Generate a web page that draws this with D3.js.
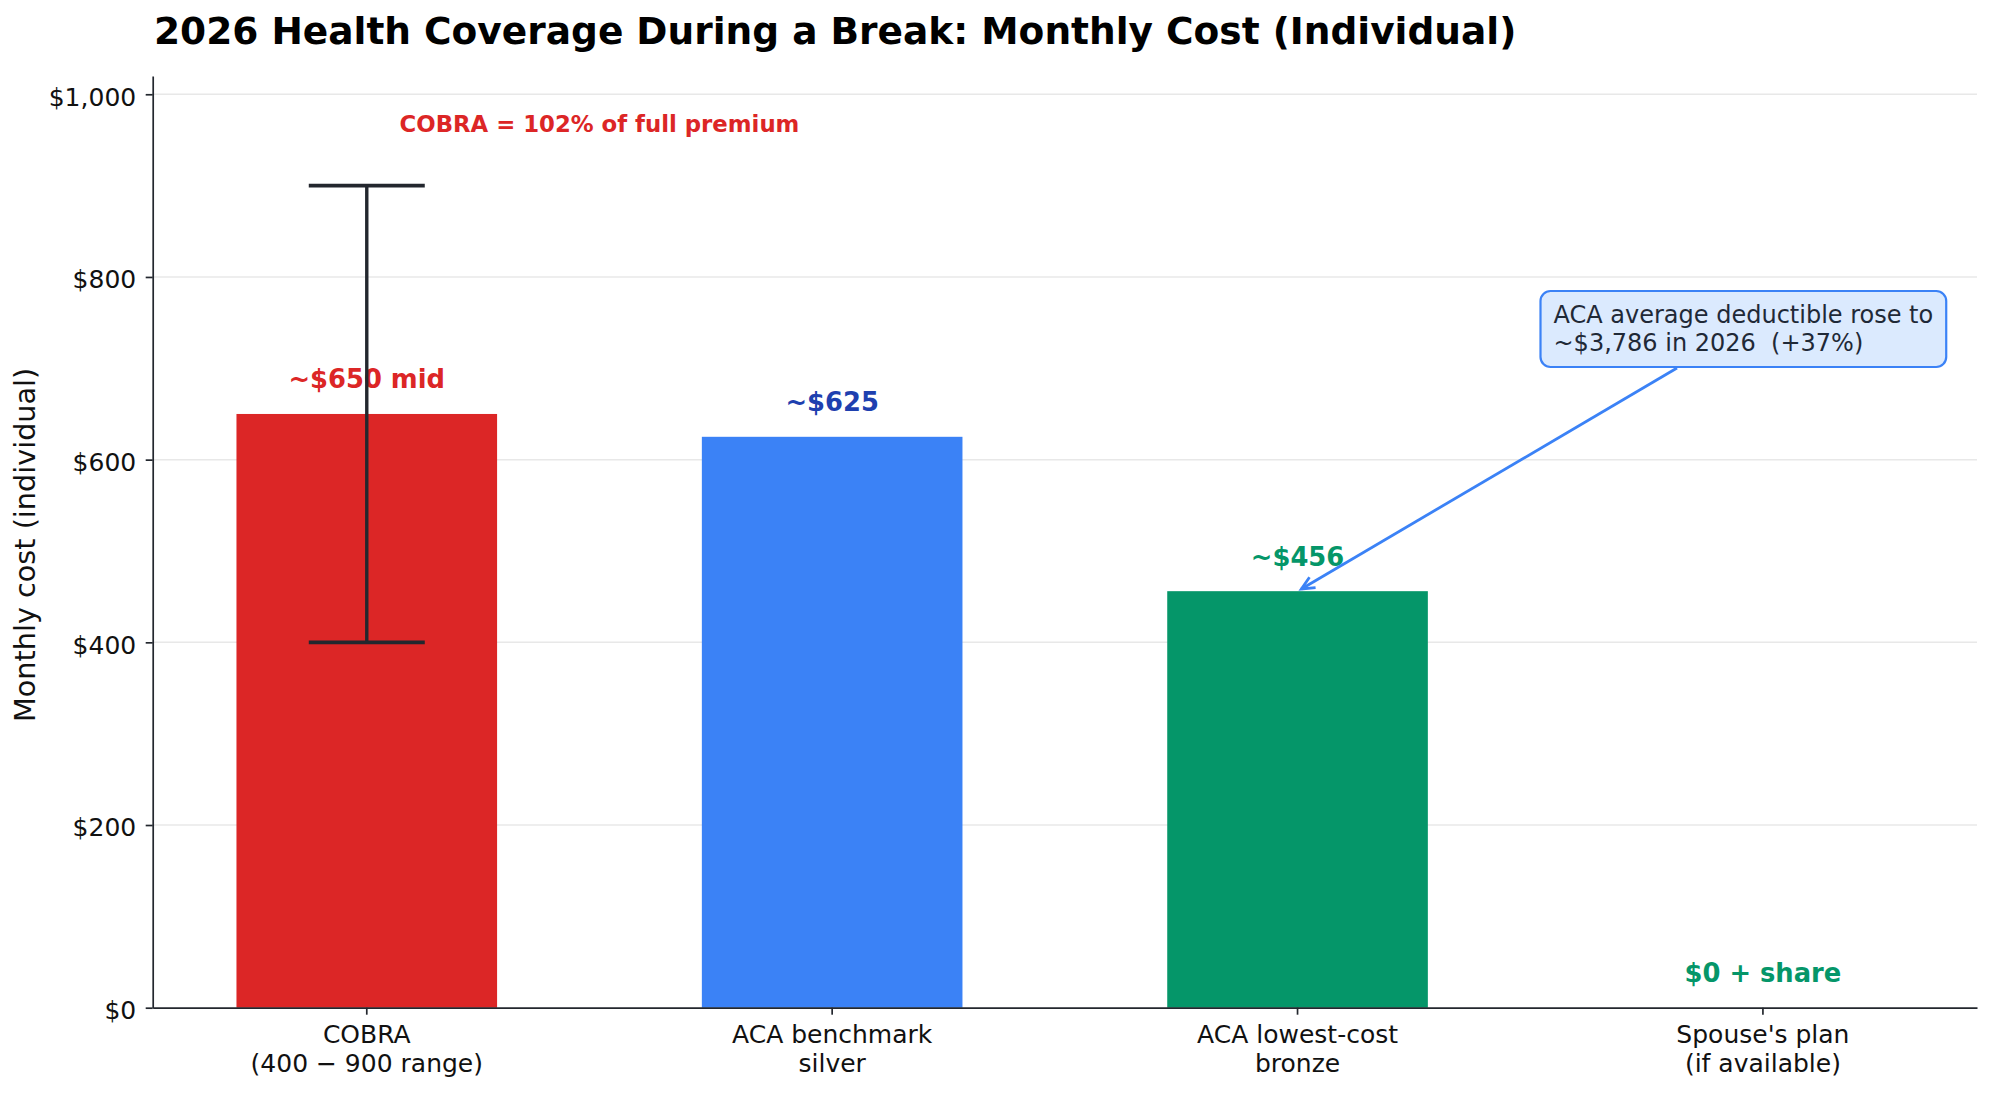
<!DOCTYPE html>
<html>
<head>
<meta charset="utf-8">
<script src="https://cdn.jsdelivr.net/npm/d3@7"></script>
<style>
  body { margin: 0; background: #fff; }
  text { font-family: "DejaVu Sans", sans-serif; }
</style>
</head>
<body>
<div id="chart"></div>
<script>
var categories = ["COBRA", "ACA benchmark", "ACA lowest-cost", "Spouse's plan"];
var subLabels = ["(400 \u2212 900 range)", "silver", "bronze", "(if available)"];
var costs = [650, 625, 456, 0];
var valueLabels = ["~$650 mid", "~$625", "~$456", "$0 + share"];
var barColors = ["#dc2626", "#3b82f6", "#059669", "#059669"];
var labelColors = ["#dc2626", "#1e40af", "#059669", "#059669"];
var cobraRange = [400, 900];
var yTicks = [0, 200, 400, 600, 800, 1000];
var noteLines = ["ACA average deductible rose to", "~$3,786 in 2026  (+37%)"];
var noteAt = [2.55, 743];     // text anchor (category units, dollars)
var notePoint = [2, 456];     // arrow target
var cobraNote = "COBRA = 102% of full premium";
var cobraNoteAt = [0.5, 960];

var width = 1991, height = 1094;
var margin = {top: 76, right: 14, bottom: 86.3, left: 152.7};
var ink = "#23272e";

var svg = d3.select("#chart").append("svg")
    .attr("width", width)
    .attr("height", height);

var x = d3.scaleBand()
    .domain(categories)
    .range([margin.left, width - margin.right])
    .paddingInner(0.44)
    .paddingOuter(0.18);

var y = d3.scaleLinear()
    .domain([0, 1020])
    .range([height - margin.bottom, margin.top]);

// fractional category position -> px (bar centres at 0,1,2,3)
var xAt = function(v) {
  return x(categories[0]) + x.bandwidth() / 2 + v * x.step();
};

// grid
svg.append("g")
    .selectAll("line")
    .data(yTicks.filter(function(d) { return d > 0; }))
    .enter().append("line")
      .attr("x1", margin.left)
      .attr("x2", width - margin.right)
      .attr("y1", function(d) { return y(d); })
      .attr("y2", function(d) { return y(d); })
      .attr("stroke", "#e8e8e8")
      .attr("stroke-width", 1.5);

// bars
svg.append("g")
    .selectAll("rect")
    .data(costs)
    .enter().append("rect")
      .attr("x", function(d, i) { return x(categories[i]); })
      .attr("width", x.bandwidth())
      .attr("y", function(d) { return y(d); })
      .attr("height", function(d) { return y(0) - y(d); })
      .attr("fill", function(d, i) { return barColors[i]; });

// value labels
svg.append("g")
    .selectAll("text")
    .data(costs)
    .enter().append("text")
      .attr("x", function(d, i) { return xAt(i); })
      .attr("y", function(d) { return y(d) - 25.5; })
      .attr("text-anchor", "middle")
      .attr("font-weight", "bold")
      .attr("font-size", "25.8px")
      .attr("fill", function(d, i) { return labelColors[i]; })
      .text(function(d, i) { return valueLabels[i]; });

// COBRA range error bar
var eb = svg.append("g")
    .attr("stroke", ink)
    .attr("stroke-width", 3.4);
eb.append("line")
    .attr("x1", xAt(0)).attr("x2", xAt(0))
    .attr("y1", y(cobraRange[0])).attr("y2", y(cobraRange[1]));
eb.selectAll(".cap")
    .data(cobraRange)
    .enter().append("line")
      .attr("class", "cap")
      .attr("x1", xAt(0) - 58).attr("x2", xAt(0) + 58)
      .attr("y1", function(d) { return y(d); })
      .attr("y2", function(d) { return y(d); })
      .attr("stroke-width", 3.8);

svg.append("text")
    .attr("x", xAt(cobraNoteAt[0]))
    .attr("y", y(cobraNoteAt[1]) + 1)
    .attr("text-anchor", "middle")
    .attr("font-weight", "bold")
    .attr("font-size", "22.8px")
    .attr("fill", "#dc2626")
    .text(cobraNote);

// axes
var yAxis = svg.append("g")
    .attr("transform", "translate(" + margin.left + ",0)")
    .call(d3.axisLeft(y)
      .tickValues(yTicks)
      .tickSizeInner(7)
      .tickSizeOuter(0)
      .tickPadding(9.5)
      .tickFormat(function(d) { return "$" + d3.format(",")(d); }));

var xAxis = svg.append("g")
    .attr("transform", "translate(0," + y(0) + ")")
    .call(d3.axisBottom(x)
      .tickSizeInner(7)
      .tickSizeOuter(0)
      .tickFormat(""));

[yAxis, xAxis].forEach(function(ax) {
  ax.select(".domain").attr("stroke", ink).attr("stroke-width", 1.7);
  ax.selectAll(".tick line").attr("stroke", ink).attr("stroke-width", 1.7);
});
yAxis.selectAll(".tick text")
    .attr("font-size", "25px")
    .attr("font-family", "DejaVu Sans")
    .attr("fill", "#111")
    .attr("dy", "0.43em");

var catLabel = svg.append("g")
    .selectAll("text")
    .data(categories)
    .enter().append("text")
      .attr("text-anchor", "middle")
      .attr("font-size", "25px")
      .attr("fill", "#111");
catLabel.append("tspan")
    .attr("x", function(d) { return x(d) + x.bandwidth() / 2; })
    .attr("y", y(0) + 34.8)
    .text(function(d) { return d; });
catLabel.append("tspan")
    .attr("x", function(d) { return x(d) + x.bandwidth() / 2; })
    .attr("y", y(0) + 64.3)
    .text(function(d, i) { return subLabels[i]; });

// y label
svg.append("text")
    .attr("transform", "translate(35," + (margin.top + (y(0) - margin.top) / 2 + 3) + ") rotate(-90)")
    .attr("text-anchor", "middle")
    .attr("font-size", "28.7px")
    .attr("fill", "#111")
    .text("Monthly cost (individual)");

// title
svg.append("text")
    .attr("x", 154)
    .attr("y", 44)
    .attr("font-size", "37.5px")
    .attr("font-weight", "bold")
    .attr("fill", "#000")
    .text("2026 Health Coverage During a Break: Monthly Cost (Individual)");

// deductible callout
var note = svg.append("g");
var noteBox = note.append("rect");
var noteText = note.append("text")
    .attr("font-size", "24px")
    .attr("fill", "#1f2937")
    .style("white-space", "pre");
noteText.selectAll("tspan")
    .data(noteLines)
    .enter().append("tspan")
      .attr("x", xAt(noteAt[0]))
      .attr("y", function(d, i) { return y(noteAt[1]) + (i ? 22 : -6.3); })
      .text(function(d) { return d; });

var tw = d3.max(noteText.selectAll("tspan").nodes(), function(n) { return n.getComputedTextLength(); });
var bx0 = xAt(noteAt[0]) - 13, bx1 = xAt(noteAt[0]) + tw + 13;
var by0 = y(noteAt[1]) - 38, by1 = y(noteAt[1]) + 38;
noteBox
    .attr("x", bx0).attr("y", by0)
    .attr("width", bx1 - bx0).attr("height", by1 - by0)
    .attr("rx", 10)
    .attr("fill", "#dbeafe")
    .attr("stroke", "#3b82f6")
    .attr("stroke-width", 2.2);

// arrow from box centre toward the bronze bar, clipped at box edge
var cx = (bx0 + bx1) / 2, cy = (by0 + by1) / 2;
var tx = xAt(notePoint[0]), ty = y(notePoint[1]);
var t0 = (by1 - cy) / (ty - cy);
var sx = cx + (tx - cx) * t0, sy = by1;
var len = Math.hypot(tx - sx, ty - sy);
var ux = (tx - sx) / len, uy = (ty - sy) / len;
var ex = tx - ux * 4.4, ey = ty - uy * 4.4;
var hl = 13, hw = 6;
note.append("line")
    .attr("x1", sx + ux * 2).attr("y1", sy + uy * 2)
    .attr("x2", ex).attr("y2", ey)
    .attr("stroke", "#3b82f6")
    .attr("stroke-width", 2.8);
note.append("path")
    .attr("d", "M" + (ex - ux * hl - uy * hw) + "," + (ey - uy * hl + ux * hw) +
               "L" + ex + "," + ey +
               "L" + (ex - ux * hl + uy * hw) + "," + (ey - uy * hl - ux * hw))
    .attr("fill", "none")
    .attr("stroke", "#3b82f6")
    .attr("stroke-width", 2.8);
</script>
</body>
</html>
